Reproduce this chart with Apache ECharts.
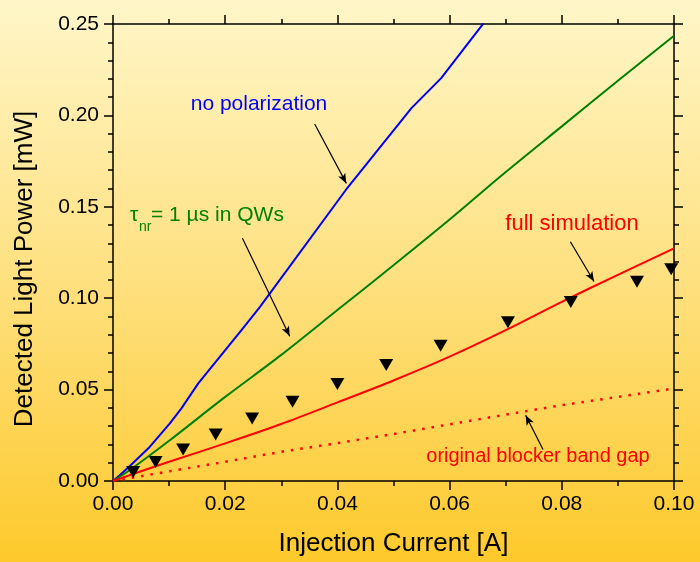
<!DOCTYPE html>
<html><head><meta charset="utf-8">
<script src="https://cdn.jsdelivr.net/npm/echarts@6/dist/echarts.min.js"></script>
<style>html,body{margin:0;padding:0;background:#fff;}#c{width:700px;height:562px;}</style>
</head><body><div id="c"></div>
<script>
// ---- data ----
const noPolX = [0, 0.0012, 0.003, 0.0065, 0.0101, 0.0122, 0.0152, 0.0229, 0.0262, 0.0415, 0.0532, 0.0585, 0.0660];
const noPolY = [0, 0.0031, 0.0082, 0.0185, 0.0314, 0.0397, 0.0534, 0.0825, 0.0953, 0.1592, 0.2040, 0.2204, 0.2502];

const tauX = [0, 0.003, 0.01, 0.02, 0.03, 0.04, 0.05, 0.06, 0.07, 0.08, 0.09, 0.10];
const tauY = [0, 0.006, 0.022, 0.046, 0.069, 0.0935, 0.118, 0.143, 0.169, 0.194, 0.219, 0.2436];

const fullX = [0, 0.005, 0.01, 0.02, 0.03, 0.04, 0.05, 0.06, 0.07, 0.08, 0.09, 0.10];
const fullY = [0, 0.0053, 0.0105, 0.0206, 0.0312, 0.0430, 0.0550, 0.0680, 0.0825, 0.0980, 0.1128, 0.1273];

const blockerX = [0, 0.01, 0.02, 0.03, 0.04, 0.05, 0.06, 0.07, 0.08, 0.09, 0.10];
const blockerY = [0, 0.0053, 0.0105, 0.016, 0.0207, 0.0257, 0.031, 0.0363, 0.0415, 0.046, 0.0506];

const measX = [0.0036, 0.0076, 0.0125, 0.0183, 0.0248, 0.0320, 0.0400, 0.0487, 0.0584, 0.0704, 0.0816, 0.0934, 0.0995];
const measY = [0.0049, 0.0104, 0.0172, 0.0254, 0.0342, 0.0433, 0.0530, 0.0634, 0.0740, 0.0868, 0.0979, 0.1090, 0.1158];

const xTickValues = [0, 0.02, 0.04, 0.06, 0.08, 0.10];
const yTickValues = [0, 0.05, 0.10, 0.15, 0.20, 0.25];

// annotation arrows (data coordinates: start -> head)
const arrowSegments = [
  [[0.03595, 0.1953], [0.04160, 0.1628]],
  [[0.02307, 0.1328], [0.03150, 0.0792]],
  [[0.08153, 0.1309], [0.08574, 0.1091]],
  [[0.07665, 0.0172], [0.07356, 0.0360]]
];

const pairs = (xs, ys) => xs.map((x, i) => [x, ys[i]]);

const FONT = '"Liberation Sans", Arial, Helvetica, sans-serif';
const BLUE = '#0000ff', GREEN = '#008000', RED = '#ff0000';

function axisCommon(extra) {
  const ls = {color: '#000', width: 1.5};
  return Object.assign({
    type: 'value',
    axisLine: {show: true, onZero: false, lineStyle: ls},
    axisTick: {show: true, inside: false, length: 9, lineStyle: ls},
    minorTick: {show: true, length: 5, lineStyle: ls},
    splitLine: {show: false},
    minorSplitLine: {show: false}
  }, extra);
}

const chart = echarts.init(document.getElementById('c'), null, {renderer: 'canvas'});
const labelStyle = {color: '#000', fontSize: 21, fontFamily: FONT};

chart.setOption({
  animation: false,
  backgroundColor: new echarts.graphic.LinearGradient(0, 0, 0, 1, [
    {offset: 0, color: '#FFF6C8'},
    {offset: 0.5, color: '#FEE07F'},
    {offset: 1, color: '#FDC92B'}
  ]),
  grid: {left: 113, right: 26, top: 24, bottom: 81, outerBoundsMode: 'none', containLabel: false},
  xAxis: [
    axisCommon({
      position: 'bottom', min: xTickValues[0], max: xTickValues[xTickValues.length - 1],
      interval: xTickValues[1] - xTickValues[0],
      minorTick: {show: true, splitNumber: 2, length: 5, lineStyle: {color: '#000', width: 1.5}},
      axisLabel: Object.assign({margin: 13, formatter: v => v.toFixed(2)}, labelStyle),
      name: 'Injection Current [A]', nameLocation: 'middle', nameGap: 50,
      nameTextStyle: {color: '#000', fontSize: 26, fontFamily: FONT}
    }),
    axisCommon({
      position: 'top', min: xTickValues[0], max: xTickValues[xTickValues.length - 1],
      interval: xTickValues[1] - xTickValues[0],
      minorTick: {show: true, splitNumber: 2, length: 5, lineStyle: {color: '#000', width: 1.5}},
      axisLabel: {show: false}
    })
  ],
  yAxis: [
    axisCommon({
      position: 'left', min: yTickValues[0], max: yTickValues[yTickValues.length - 1],
      interval: yTickValues[1] - yTickValues[0],
      minorTick: {show: true, splitNumber: 5, length: 5, lineStyle: {color: '#000', width: 1.5}},
      axisLabel: Object.assign({margin: 14, formatter: v => v.toFixed(2)}, labelStyle)
    }),
    axisCommon({
      position: 'right', min: yTickValues[0], max: yTickValues[yTickValues.length - 1],
      interval: yTickValues[1] - yTickValues[0],
      minorTick: {show: true, splitNumber: 5, length: 5, lineStyle: {color: '#000', width: 1.5}},
      axisLabel: {show: false}
    })
  ],
  series: [
    {
      name: 'no polarization', type: 'line', data: pairs(noPolX, noPolY),
      showSymbol: false, symbol: 'none', clip: true,
      lineStyle: {color: BLUE, width: 2}, z: 3
    },
    {
      name: 'tau_nr = 1 us in QWs', type: 'line', data: pairs(tauX, tauY),
      showSymbol: false, symbol: 'none', clip: true, smooth: 0.3,
      lineStyle: {color: GREEN, width: 2}, z: 3,
      markLine: {
        silent: true, animation: false,
        symbol: ['none', 'arrow'], symbolSize: [6, 10],
        label: {show: false},
        lineStyle: {color: '#000', width: 1.2, type: 'solid'},
        emphasis: {disabled: true},
        data: arrowSegments.map(s => [{coord: s[0]}, {coord: s[1]}])
      }
    },
    {
      name: 'full simulation', type: 'line', data: pairs(fullX, fullY),
      showSymbol: false, symbol: 'none', clip: true, smooth: 0.3,
      lineStyle: {color: RED, width: 2}, z: 3
    },
    {
      name: 'original blocker band gap', type: 'line', data: pairs(blockerX, blockerY),
      showSymbol: false, symbol: 'none', clip: true,
      lineStyle: {color: RED, width: 2.5, type: [2.5, 7]}, z: 3
    },
    {
      name: 'measurement', type: 'scatter', data: pairs(measX, measY),
      symbol: 'triangle', symbolRotate: 180, symbolSize: [14, 12],
      itemStyle: {color: '#000', opacity: 1}, z: 4
    }
  ],
  graphic: [
    {type: 'text', x: 25, y: 269, rotation: Math.PI / 2,
     style: {text: 'Detected Light Power [mW]', fill: '#000', font: '26px ' + FONT, textAlign: 'center', textVerticalAlign: 'middle', verticalAlign: 'middle'}},
    {type: 'text', x: 259, y: 104.5,
     style: {text: 'no polarization', fill: BLUE, font: '21px ' + FONT, textAlign: 'center', textVerticalAlign: 'middle', verticalAlign: 'middle'}},
    {type: 'text', x: 130, y: 215.5,
     style: {text: 'τ', fill: GREEN, font: '21px ' + FONT, textAlign: 'left', textVerticalAlign: 'middle', verticalAlign: 'middle'}},
    {type: 'text', x: 139, y: 227,
     style: {text: 'nr', fill: GREEN, font: '14px ' + FONT, textAlign: 'left', textVerticalAlign: 'middle', verticalAlign: 'middle'}},
    {type: 'text', x: 151, y: 215.5,
     style: {text: '= 1 µs in QWs', fill: GREEN, font: '21px ' + FONT, textAlign: 'left', textVerticalAlign: 'middle', verticalAlign: 'middle'}},
    {type: 'text', x: 572, y: 224,
     style: {text: 'full simulation', fill: RED, font: '22px ' + FONT, textAlign: 'center', textVerticalAlign: 'middle', verticalAlign: 'middle'}},
    {type: 'text', x: 538, y: 456,
     style: {text: 'original blocker band gap', fill: RED, font: '20px ' + FONT, textAlign: 'center', textVerticalAlign: 'middle', verticalAlign: 'middle'}}
  ]
});
</script>
</body></html>
